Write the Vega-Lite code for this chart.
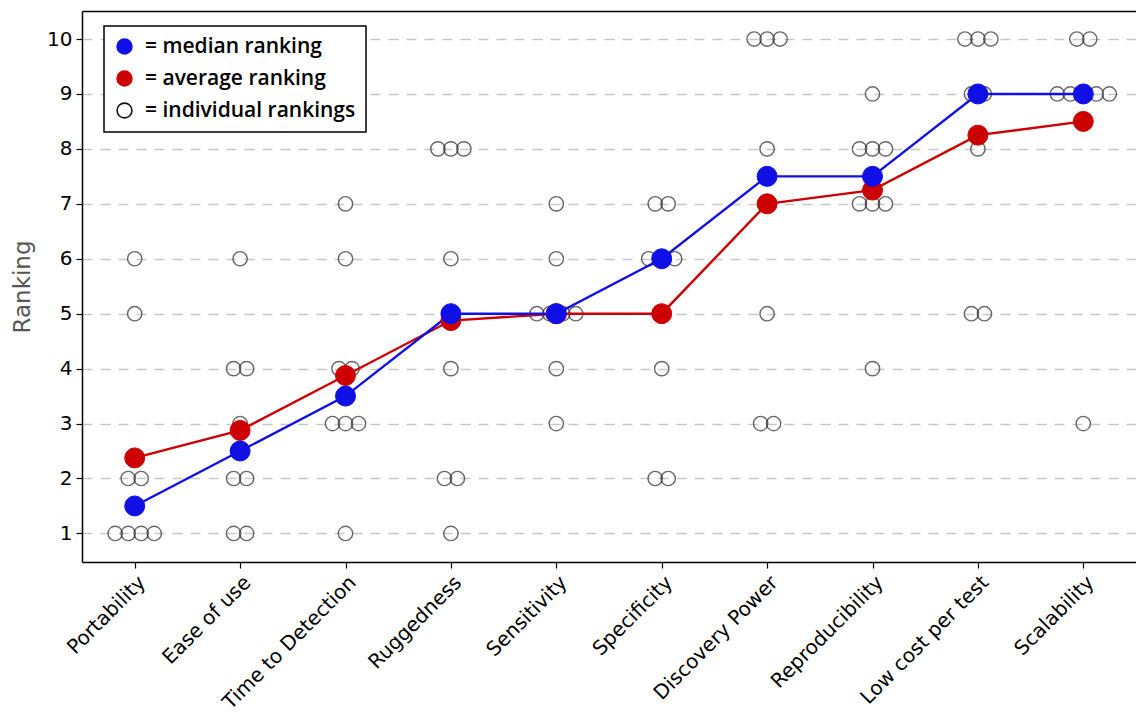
{
  "$schema": "https://vega.github.io/schema/vega-lite/v6.json",
  "width": 1054,
  "height": 551,
  "autosize": {"type": "none"},
  "padding": {"left": 82, "top": 11, "right": 0, "bottom": 163},
  "background": "white",
  "config": {
    "font": "DejaVu Sans",
    "view": {"stroke": null},
    "axis": {
      "domainColor": "black",
      "domainWidth": 1.5,
      "tickColor": "black",
      "tickWidth": 1.2,
      "tickSize": 6,
      "labelColor": "black",
      "labelFontSize": 20,
      "labelFont": "DejaVu Sans",
      "titleFont": "DejaVu Sans",
      "titleFontSize": 23,
      "titleFontWeight": "normal",
      "titleColor": "#555555"
    },
    "axisY": {
      "grid": true,
      "gridColor": "#c8c8c8",
      "gridDash": [10, 8],
      "gridWidth": 1.5,
      "values": [1, 2, 3, 4, 5, 6, 7, 8, 9, 10],
      "labelFontSize": 20,
      "labelPadding": 4,
      "titlePadding": 12
    },
    "legend": {
      "orient": "none",
      "legendX": 22,
      "legendY": 15,
      "strokeColor": "black",
      "strokeWidth": 1.5,
      "fillColor": "white",
      "padding": 10,
      "labelFont": "Open Sans",
      "labelFontSize": 21,
      "labelFontWeight": 600,
      "labelColor": "black",
      "labelOffset": 10,
      "labelLimit": 500,
      "symbolSize": 220,
      "symbolStrokeWidth": 1.6,
      "symbolType": "circle",
      "rowPadding": 9
    }
  },
  "datasets": {
    "individual": [
      {"criterion": "Portability", "ranking": 1}, {"criterion": "Portability", "ranking": 1}, {"criterion": "Portability", "ranking": 1}, {"criterion": "Portability", "ranking": 1},
      {"criterion": "Portability", "ranking": 2}, {"criterion": "Portability", "ranking": 2}, {"criterion": "Portability", "ranking": 5}, {"criterion": "Portability", "ranking": 6},
      {"criterion": "Ease of use", "ranking": 1}, {"criterion": "Ease of use", "ranking": 1}, {"criterion": "Ease of use", "ranking": 2}, {"criterion": "Ease of use", "ranking": 2},
      {"criterion": "Ease of use", "ranking": 3}, {"criterion": "Ease of use", "ranking": 4}, {"criterion": "Ease of use", "ranking": 4}, {"criterion": "Ease of use", "ranking": 6},
      {"criterion": "Time to Detection", "ranking": 1}, {"criterion": "Time to Detection", "ranking": 3}, {"criterion": "Time to Detection", "ranking": 3}, {"criterion": "Time to Detection", "ranking": 3},
      {"criterion": "Time to Detection", "ranking": 4}, {"criterion": "Time to Detection", "ranking": 4}, {"criterion": "Time to Detection", "ranking": 6}, {"criterion": "Time to Detection", "ranking": 7},
      {"criterion": "Ruggedness", "ranking": 1}, {"criterion": "Ruggedness", "ranking": 2}, {"criterion": "Ruggedness", "ranking": 2}, {"criterion": "Ruggedness", "ranking": 4},
      {"criterion": "Ruggedness", "ranking": 6}, {"criterion": "Ruggedness", "ranking": 8}, {"criterion": "Ruggedness", "ranking": 8}, {"criterion": "Ruggedness", "ranking": 8},
      {"criterion": "Sensitivity", "ranking": 3}, {"criterion": "Sensitivity", "ranking": 4}, {"criterion": "Sensitivity", "ranking": 5}, {"criterion": "Sensitivity", "ranking": 5},
      {"criterion": "Sensitivity", "ranking": 5}, {"criterion": "Sensitivity", "ranking": 5}, {"criterion": "Sensitivity", "ranking": 6}, {"criterion": "Sensitivity", "ranking": 7},
      {"criterion": "Specificity", "ranking": 2}, {"criterion": "Specificity", "ranking": 2}, {"criterion": "Specificity", "ranking": 4}, {"criterion": "Specificity", "ranking": 6},
      {"criterion": "Specificity", "ranking": 6}, {"criterion": "Specificity", "ranking": 6}, {"criterion": "Specificity", "ranking": 7}, {"criterion": "Specificity", "ranking": 7},
      {"criterion": "Discovery Power", "ranking": 3}, {"criterion": "Discovery Power", "ranking": 3}, {"criterion": "Discovery Power", "ranking": 5}, {"criterion": "Discovery Power", "ranking": 7},
      {"criterion": "Discovery Power", "ranking": 8}, {"criterion": "Discovery Power", "ranking": 10}, {"criterion": "Discovery Power", "ranking": 10}, {"criterion": "Discovery Power", "ranking": 10},
      {"criterion": "Reproducibility", "ranking": 4}, {"criterion": "Reproducibility", "ranking": 7}, {"criterion": "Reproducibility", "ranking": 7}, {"criterion": "Reproducibility", "ranking": 7},
      {"criterion": "Reproducibility", "ranking": 8}, {"criterion": "Reproducibility", "ranking": 8}, {"criterion": "Reproducibility", "ranking": 8}, {"criterion": "Reproducibility", "ranking": 9},
      {"criterion": "Low cost per test", "ranking": 5}, {"criterion": "Low cost per test", "ranking": 5}, {"criterion": "Low cost per test", "ranking": 8}, {"criterion": "Low cost per test", "ranking": 9},
      {"criterion": "Low cost per test", "ranking": 9}, {"criterion": "Low cost per test", "ranking": 10}, {"criterion": "Low cost per test", "ranking": 10}, {"criterion": "Low cost per test", "ranking": 10},
      {"criterion": "Scalability", "ranking": 3}, {"criterion": "Scalability", "ranking": 9}, {"criterion": "Scalability", "ranking": 9}, {"criterion": "Scalability", "ranking": 9},
      {"criterion": "Scalability", "ranking": 9}, {"criterion": "Scalability", "ranking": 9}, {"criterion": "Scalability", "ranking": 10}, {"criterion": "Scalability", "ranking": 10}
    ],
    "summary": [
      {"criterion": "Portability", "stat": "average ranking", "value": 2.375},
      {"criterion": "Ease of use", "stat": "average ranking", "value": 2.875},
      {"criterion": "Time to Detection", "stat": "average ranking", "value": 3.875},
      {"criterion": "Ruggedness", "stat": "average ranking", "value": 4.875},
      {"criterion": "Sensitivity", "stat": "average ranking", "value": 5},
      {"criterion": "Specificity", "stat": "average ranking", "value": 5},
      {"criterion": "Discovery Power", "stat": "average ranking", "value": 7},
      {"criterion": "Reproducibility", "stat": "average ranking", "value": 7.25},
      {"criterion": "Low cost per test", "stat": "average ranking", "value": 8.25},
      {"criterion": "Scalability", "stat": "average ranking", "value": 8.5},
      {"criterion": "Portability", "stat": "median ranking", "value": 1.5},
      {"criterion": "Ease of use", "stat": "median ranking", "value": 2.5},
      {"criterion": "Time to Detection", "stat": "median ranking", "value": 3.5},
      {"criterion": "Ruggedness", "stat": "median ranking", "value": 5},
      {"criterion": "Sensitivity", "stat": "median ranking", "value": 5},
      {"criterion": "Specificity", "stat": "median ranking", "value": 6},
      {"criterion": "Discovery Power", "stat": "median ranking", "value": 7.5},
      {"criterion": "Reproducibility", "stat": "median ranking", "value": 7.5},
      {"criterion": "Low cost per test", "stat": "median ranking", "value": 9},
      {"criterion": "Scalability", "stat": "median ranking", "value": 9}
    ]
  },
  "layer": [
    {
      "data": {"name": "individual"},
      "transform": [
        {"window": [{"op": "row_number", "as": "r"}], "groupby": ["criterion", "ranking"]},
        {"joinaggregate": [{"op": "count", "as": "n"}], "groupby": ["criterion", "ranking"]},
        {"calculate": "datum.r - (datum.n + 1) / 2", "as": "slot"}
      ],
      "mark": {"type": "point", "shape": "circle", "size": 205, "filled": false, "stroke": "#2a2a2a", "strokeWidth": 1.4, "fill": "transparent"},
      "encoding": {
        "x": {
          "field": "criterion", "type": "nominal",
          "scale": {"type": "point", "padding": 0.5, "domain": ["Portability", "Ease of use", "Time to Detection", "Ruggedness", "Sensitivity", "Specificity", "Discovery Power", "Reproducibility", "Low cost per test", "Scalability"]},
          "axis": {"title": null, "labelAngle": -45, "labelPadding": 4, "orient": "bottom"}
        },
        "xOffset": {"field": "slot", "type": "quantitative", "scale": {"domain": [-2, 2], "range": [-26, 26], "zero": false, "nice": false}},
        "y": {"field": "ranking", "type": "quantitative", "title": "Ranking", "scale": {"domain": [0.48, 10.51], "nice": false, "zero": false}}
      }
    },
    {
      "data": {"name": "summary"},
      "transform": [{"filter": "datum.stat == 'average ranking'"}],
      "mark": {"type": "line", "color": "#CC0000", "strokeWidth": 2.4},
      "encoding": {
        "x": {"field": "criterion", "type": "nominal", "axis": {"orient": "top", "labels": false, "ticks": false, "title": null, "domain": true, "domainColor": "black", "domainWidth": 1.5}},
        "y": {"field": "value", "type": "quantitative", "title": "Ranking"}
      }
    },
    {
      "data": {"name": "summary"},
      "transform": [{"filter": "datum.stat == 'median ranking'"}],
      "mark": {"type": "line", "color": "#1010E6", "strokeWidth": 2.4},
      "encoding": {
        "x": {"field": "criterion", "type": "nominal", "axis": null},
        "y": {"field": "value", "type": "quantitative", "title": "Ranking"}
      }
    },
    {
      "data": {"name": "summary"},
      "mark": {"type": "point", "shape": "circle", "size": 400, "filled": true, "opacity": 1, "strokeWidth": 1},
      "encoding": {
        "x": {"field": "criterion", "type": "nominal", "axis": null},
        "y": {"field": "value", "type": "quantitative", "title": "Ranking"},
        "fill": {
          "field": "stat", "type": "nominal",
          "scale": {"domain": ["median ranking", "average ranking", "individual rankings"], "range": ["#1010E6", "#CC0000", "transparent"]},
          "legend": {"title": null, "labelExpr": "'= ' + datum.label"}
        },
        "stroke": {
          "field": "stat", "type": "nominal",
          "scale": {"domain": ["median ranking", "average ranking", "individual rankings"], "range": ["#1010E6", "#CC0000", "#111111"]},
          "legend": {"title": null, "labelExpr": "'= ' + datum.label"}
        }
      }
    }
  ]
}
